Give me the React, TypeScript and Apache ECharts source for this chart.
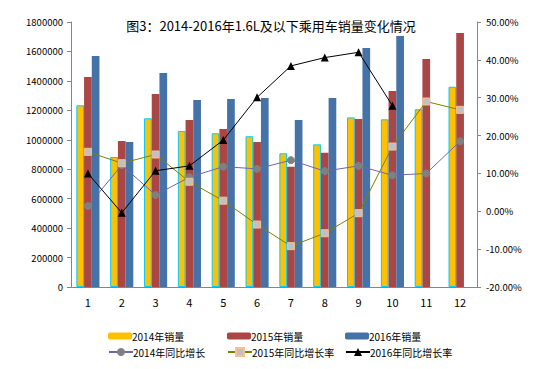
import React, { useEffect, useRef } from "react";
import * as echarts from "echarts";

const months = ["1", "2", "3", "4", "5", "6", "7", "8", "9", "10", "11", "12"];
const sales2014 = [1234000, 883000, 1146000, 1060000, 1044000, 1024000, 908000, 969000, 1152000, 1139000, 1207000, 1360000];
const sales2015 = [1426000, 992000, 1311000, 1134000, 1073000, 985000, 817000, 912000, 1141000, 1331000, 1549000, 1725000];
const sales2016 = [1569000, 985000, 1454000, 1270000, 1277000, 1284000, 1134000, 1284000, 1623000, 1705000, null, null];
const growth2014 = [1.4, 12.2, 4.3, 9.0, 11.8, 11.2, 13.5, 10.6, 12.0, 9.5, 10.0, 18.5];
const growth2015 = [15.7, 12.7, 15.0, 7.8, 2.8, -3.5, -9.2, -5.8, -0.5, 17.1, 29.0, 26.8];
const growth2016 = [10.0, -0.4, 10.7, 12.0, 18.8, 30.1, 38.4, 40.6, 42.0, 27.9, null, null];

const names = ["2014年销量", "2015年销量", "2016年销量", "2014年同比增长", "2015年同比增长率", "2016年同比增长率"];

const FONT = "'Noto Sans CJK SC', 'Noto Sans', sans-serif";
const AXIS_COLOR = "#868686";

export default function App() {
  const ref = useRef<HTMLDivElement>(null);
  useEffect(() => {
    if (!ref.current) return;
    const chart = echarts.init(ref.current, null, { renderer: "svg" });
    const legendLefts = [108, 227, 345];
    const legends: any[] = names.map((n, i) => {
      const lg: any = {
        data: [n],
        left: legendLefts[i % 3],
        top: i < 3 ? 331 : 347,
        itemWidth: 24,
        itemHeight: i < 3 ? 7 : 10,
        padding: 0,
        textStyle: { fontSize: 10, color: "#000", fontFamily: FONT, padding: [0, 0, 0, -5] },
      };
      if (i === 0) lg.itemStyle = { borderWidth: 0 };
      return lg;
    });
    chart.setOption({
      animation: false,
      backgroundColor: "#fff",
      title: {
        text: "图3：2014-2016年1.6L及以下乘用车销量变化情况",
        left: 266,
        textAlign: "center",
        top: 14,
        textStyle: { fontSize: 13, fontWeight: "normal", color: "#000", fontFamily: FONT },
      },
      legend: legends,
      grid: { left: 71, right: 60, top: 22, bottom: 82 },
      xAxis: {
        type: "category",
        data: months,
        axisLine: { lineStyle: { color: AXIS_COLOR } },
        axisTick: { length: 4, lineStyle: { color: AXIS_COLOR } },
        axisLabel: { fontSize: 11, color: "#000", margin: 9, fontFamily: FONT },
      },
      yAxis: [
        {
          type: "value",
          min: 0,
          max: 1800000,
          interval: 200000,
          splitLine: { show: false },
          axisLine: { show: true, lineStyle: { color: AXIS_COLOR } },
          axisTick: { show: true, length: 4, lineStyle: { color: AXIS_COLOR } },
          axisLabel: {
            fontSize: 9.5,
            color: "#000",
            margin: 8,
            fontFamily: FONT,
            formatter: (v: number) => String(v),
          },
        },
        {
          type: "value",
          min: -20,
          max: 50,
          interval: 10,
          position: "right",
          splitLine: { show: false },
          axisLine: { show: true, lineStyle: { color: AXIS_COLOR } },
          axisTick: { show: true, length: 4, lineStyle: { color: AXIS_COLOR } },
          axisLabel: {
            fontSize: 9.5,
            color: "#000",
            margin: 9,
            fontFamily: FONT,
            formatter: (v: number) => v.toFixed(2) + "%",
          },
        },
      ],
      series: [
        {
          name: names[0],
          type: "bar",
          data: sales2014,
          barWidth: 7.7,
          barGap: "0%",
          itemStyle: { color: "#FFC000", borderColor: "#00CCFF", borderWidth: 1 },
        },
        {
          name: names[1],
          type: "bar",
          data: sales2015,
          barWidth: 7.7,
          barGap: "0%",
          itemStyle: { color: "#AA4643" },
        },
        {
          name: names[2],
          type: "bar",
          data: sales2016,
          barWidth: 7.7,
          barGap: "0%",
          itemStyle: { color: "#4572A7" },
        },
        {
          name: names[3],
          type: "line",
          yAxisIndex: 1,
          data: growth2014,
          symbol: "circle",
          symbolSize: 7,
          lineStyle: { color: "#7066A8", width: 1 },
          itemStyle: { color: "#808080", borderColor: "#808080" },
        },
        {
          name: names[4],
          type: "line",
          yAxisIndex: 1,
          data: growth2015,
          symbol: "rect",
          symbolSize: 7,
          lineStyle: { color: "#808000", width: 1 },
          itemStyle: { color: "#C0C0C0", borderColor: "#FAC090", borderWidth: 1 },
        },
        {
          name: names[5],
          type: "line",
          yAxisIndex: 1,
          data: growth2016,
          symbol: "triangle",
          symbolSize: 8,
          lineStyle: { color: "#000", width: 1 },
          itemStyle: { color: "#000" },
        },
      ],
    });
    return () => chart.dispose();
  }, []);
  return <div ref={ref} style={{ width: 537, height: 369, margin: -8 }} />;
}
